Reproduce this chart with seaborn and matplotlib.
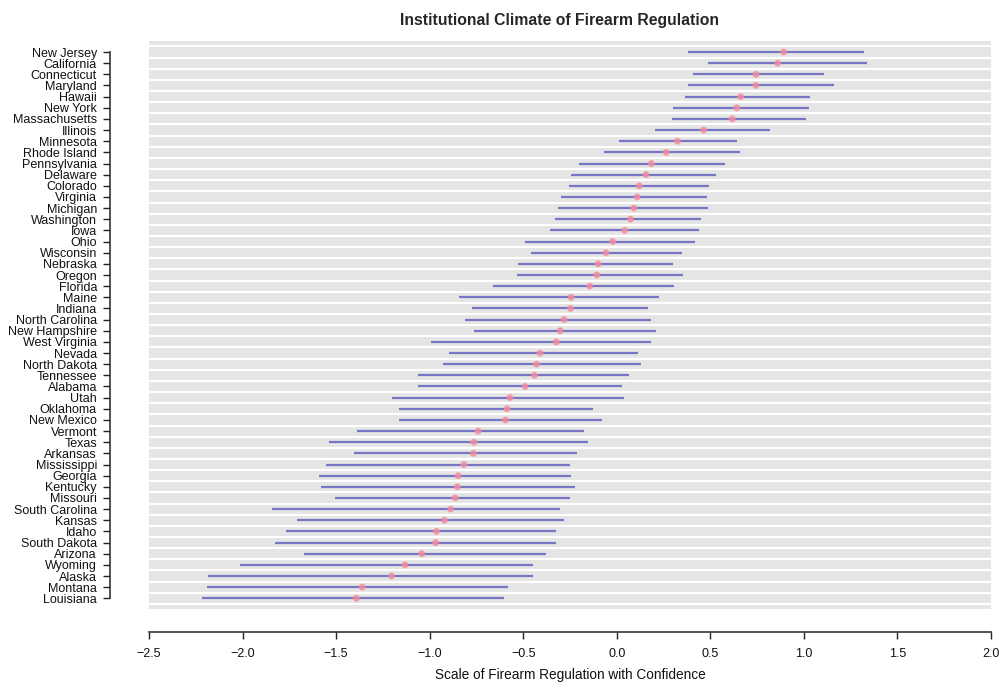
import numpy as np
import pandas as pd
import matplotlib
matplotlib.use("Agg")
import matplotlib.pyplot as plt
import seaborn as sns

states = ["New Jersey", "California", "Connecticut", "Maryland", "Hawaii", "New York",
          "Massachusetts", "Illinois", "Minnesota", "Rhode Island", "Pennsylvania", "Delaware",
          "Colorado", "Virginia", "Michigan", "Washington", "Iowa", "Ohio", "Wisconsin",
          "Nebraska", "Oregon", "Florida", "Maine", "Indiana", "North Carolina",
          "New Hampshire", "West Virginia", "Nevada", "North Dakota", "Tennessee", "Alabama",
          "Utah", "Oklahoma", "New Mexico", "Vermont", "Texas", "Arkansas", "Mississippi",
          "Georgia", "Kentucky", "Missouri", "South Carolina", "Kansas", "Idaho",
          "South Dakota", "Arizona", "Wyoming", "Alaska", "Montana", "Louisiana"]

estimate = [0.892, 0.860, 0.745, 0.743, 0.662, 0.642, 0.617, 0.464, 0.324, 0.264,
            0.185, 0.156, 0.120, 0.109, 0.091, 0.073, 0.043, -0.022, -0.058, -0.100,
            -0.107, -0.145, -0.244, -0.247, -0.281, -0.303, -0.323, -0.411, -0.429, -0.440,
            -0.490, -0.571, -0.586, -0.595, -0.741, -0.764, -0.766, -0.817, -0.848, -0.852,
            -0.864, -0.888, -0.921, -0.964, -0.968, -1.042, -1.132, -1.204, -1.361, -1.392]

lower = [0.383, 0.487, 0.406, 0.379, 0.367, 0.302, 0.296, 0.203, 0.010, -0.069,
         -0.204, -0.244, -0.258, -0.296, -0.312, -0.330, -0.355, -0.490, -0.456, -0.528,
         -0.535, -0.661, -0.843, -0.773, -0.811, -0.764, -0.994, -0.899, -0.928, -1.063,
         -1.063, -1.203, -1.165, -1.165, -1.387, -1.537, -1.402, -1.555, -1.592, -1.580,
         -1.506, -1.844, -1.709, -1.766, -1.825, -1.672, -2.013, -2.185, -2.191, -2.216]

upper = [1.319, 1.335, 1.107, 1.159, 1.031, 1.027, 1.011, 0.819, 0.640, 0.657,
         0.577, 0.529, 0.493, 0.482, 0.486, 0.451, 0.441, 0.419, 0.350, 0.300,
         0.352, 0.305, 0.226, 0.169, 0.183, 0.212, 0.181, 0.115, 0.131, 0.064,
         0.030, 0.037, -0.125, -0.078, -0.173, -0.156, -0.212, -0.250, -0.242, -0.224,
         -0.249, -0.301, -0.281, -0.324, -0.326, -0.377, -0.449, -0.449, -0.584, -0.604]

x_ticks = [-2.5, -2.0, -1.5, -1.0, -0.5, 0.0, 0.5, 1.0, 1.5, 2.0]

df = pd.DataFrame({"state": states, "est": estimate, "lo": lower, "hi": upper})
df["pos"] = np.arange(len(df))

sns.set_theme(style="white")
plt.rcParams["font.family"] = ["Liberation Sans", "DejaVu Sans"]
plt.rcParams["xtick.labelsize"] = 9.0
plt.rcParams["ytick.labelsize"] = 9.0

DPI = 100
px = 72.0 / DPI  # points per pixel

fig = plt.figure(figsize=(10.01, 6.85), dpi=DPI)
ax = fig.add_axes([149/1001, (685-609)/685, (991-149)/1001, (609-41)/685])

ax.set_facecolor("#E5E5E5")
for b in np.arange(-0.5, len(df) + 0.5, 1.0):
    ax.axhline(b, color="white", lw=1.5, zorder=1)

ax.hlines(df["pos"], df["lo"], df["hi"], color="#4B4BB8", alpha=0.72, lw=1.6, zorder=2)
sns.scatterplot(data=df, x="est", y="pos", ax=ax, color="#F28CA0", s=24,
                edgecolor="none", alpha=0.85, zorder=3, legend=False)

ax.set_xlim(-2.5, 2.0)
ax.set_ylim(len(df) - 1 + 0.96, -0.99)

ax.set_yticks(df["pos"], labels=df["state"])
ax.set_xticks(x_ticks, labels=[f"{t:.1f}".replace("-", "\u2212") for t in x_ticks])

for s in ["top", "right"]:
    ax.spines[s].set_visible(False)
ax.spines["left"].set_position(("outward", 39 * px))
ax.spines["bottom"].set_position(("outward", 23 * px))
ax.spines["left"].set_bounds(0, len(df) - 1)
ax.spines["bottom"].set_bounds(-2.5, 2.0)
for s in ["left", "bottom"]:
    ax.spines[s].set_color("#333333")
    ax.spines[s].set_linewidth(1.2)

ax.tick_params(axis="y", direction="out", length=7 * px, width=1.0, color="#222222",
               pad=6 * px, left=True, labelcolor="#111111", labelsize=9.0)
ax.tick_params(axis="x", direction="out", length=7 * px, width=1.0, color="#222222",
               pad=9 * px, bottom=True, labelcolor="#111111", labelsize=9.0)

ax.set_xlabel("Scale of Firearm Regulation with Confidence", fontsize=9.8, labelpad=8 * px,
              color="#111111")
ax.set_ylabel("")
ax.set_title("Institutional Climate of Firearm Regulation", fontsize=11.3, fontweight="bold",
             pad=16 * px, x=0.488)

fig.savefig("out.png", dpi=DPI)
